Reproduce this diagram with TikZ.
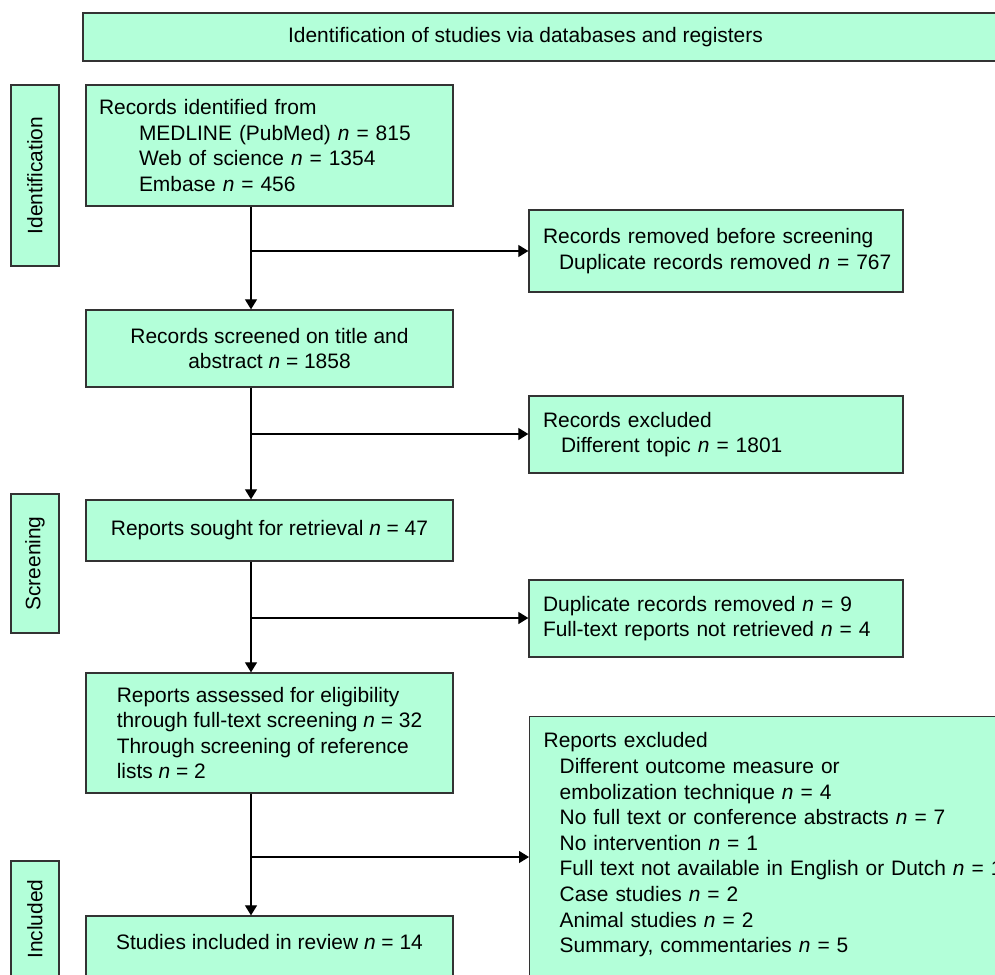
\documentclass[tikz,border=0pt]{standalone}
\usepackage{fontspec}
\setmainfont{Liberation Sans}
\usetikzlibrary{arrows.meta}
\definecolor{boxfill}{HTML}{B3FFD9}
\definecolor{boxline}{HTML}{333333}
\begin{document}
\begin{tikzpicture}[x=0.75pt,y=-0.75pt,
  every node/.style={font=\fontsize{15.7pt}{19.2pt}\selectfont},
  box/.style={draw=boxline, fill=boxfill, line width=1pt, rectangle, inner sep=0pt},
  conn/.style={draw=black, line width=0.9pt},
  arr/.style={conn, -{Triangle[width=9pt,length=7.5pt]}}]
\useasboundingbox (0,0) rectangle (995,974);
\clip (0,0) rectangle (995,974);

% header
\node[box, minimum width=684.75pt, minimum height=36pt] (title) at (539.5,37)
  {Identification of studies via databases and registers\hspace*{21pt}};

% phase labels
\node[box, rotate=90, minimum width=135.75pt, minimum height=36pt] (phase1) at (35,175.5) {Identification};
\node[box, rotate=90, minimum width=104.25pt, minimum height=36pt] (phase2) at (35,563.5) {Screening};
\node[box, rotate=90, minimum width=87pt, minimum height=36pt] (phase3) at (35,919) {Included};

% main column
\node[box, minimum width=275.25pt, minimum height=90.75pt, inner xsep=9.75pt, text width=255.75pt, align=left] (b1) at (269.5,145.5)
  {Records identified from\\
   \hspace*{30pt}\mbox{MEDLINE (PubMed) \textit{n} = 815}\\
   \hspace*{30pt}\mbox{Web of science \textit{n} = 1354}\\
   \hspace*{30pt}\mbox{Embase \textit{n} = 456}};
\node[box, minimum width=275.25pt, minimum height=57.75pt, align=center] (b2) at (269.5,348.5)
  {Records screened on title and\\ abstract \textit{n} = 1858};
\node[box, minimum width=275.25pt, minimum height=45.75pt] (b3) at (269.5,530.5)
  {Reports sought for retrieval \textit{n} = 47};
\node[box, minimum width=275.25pt, minimum height=90pt, align=left] (b4) at (269.5,733)
  {Reports assessed for eligibility\\
   through full-text screening \textit{n} = 32\\
   Through screening of reference\\
   lists \textit{n} = 2};
\node[box, minimum width=275.25pt, minimum height=46.5pt, text depth=7.5pt] (b5) at (269.5,947)
  {Studies included in review \textit{n} = 14};

% right column
\node[box, minimum width=280.5pt, minimum height=61.5pt, inner xsep=10.5pt, text width=259.5pt, align=left] (r1) at (716,251)
  {\mbox{Records removed before screening}\\
   \hspace*{12pt}\mbox{Duplicate records removed \textit{n} = 767}};
\node[box, minimum width=280.5pt, minimum height=57.75pt, inner xsep=10.5pt, text width=259.5pt, align=left] (r2) at (716,434.5)
  {Records excluded\\
   \hspace*{13.5pt}\mbox{Different topic \textit{n} = 1801}};
\node[box, minimum width=280.5pt, minimum height=57.75pt, inner xsep=10.5pt, text width=259.5pt, align=left] (r3) at (716,618.5)
  {\mbox{Duplicate records removed \textit{n} = 9}\\
   \mbox{Full-text reports not retrieved \textit{n} = 4}};
\node[box, anchor=north west, inner xsep=10.5pt, inner ysep=12pt, text width=450pt, align=left, text depth=250pt] (r4) at (529,716)
  {Reports excluded\\
   \hspace*{12pt}Different outcome measure or\\
   \hspace*{12pt}embolization technique \textit{n} = 4\\
   \hspace*{12pt}No full text or conference abstracts \textit{n} = 7\\
   \hspace*{12pt}No intervention \textit{n} = 1\\
   \hspace*{12pt}Full text not available in English or Dutch \textit{n} = 1\\
   \hspace*{12pt}Case studies \textit{n} = 2\\
   \hspace*{12pt}Animal studies \textit{n} = 2\\
   \hspace*{12pt}Summary, commentaries \textit{n} = 5};

% junctions
\coordinate (j1) at (251,251);
\coordinate (j2) at (251,434);
\coordinate (j3) at (251,618);
\coordinate (j4) at (251,857);

% connectors
\draw[arr] (j1 |- b1.south) -- (j1 |- b2.north);
\draw[arr] (j1) -- (j1 -| r1.west);
\draw[arr] (j2 |- b2.south) -- (j2 |- b3.north);
\draw[arr] (j2) -- (j2 -| r2.west);
\draw[arr] (j3 |- b3.south) -- (j3 |- b4.north);
\draw[arr] (j3) -- (j3 -| r3.west);
\draw[arr] (j4 |- b4.south) -- (j4 |- b5.north);
\draw[arr] (j4) -- (j4 -| r4.west);
\end{tikzpicture}
\end{document}
